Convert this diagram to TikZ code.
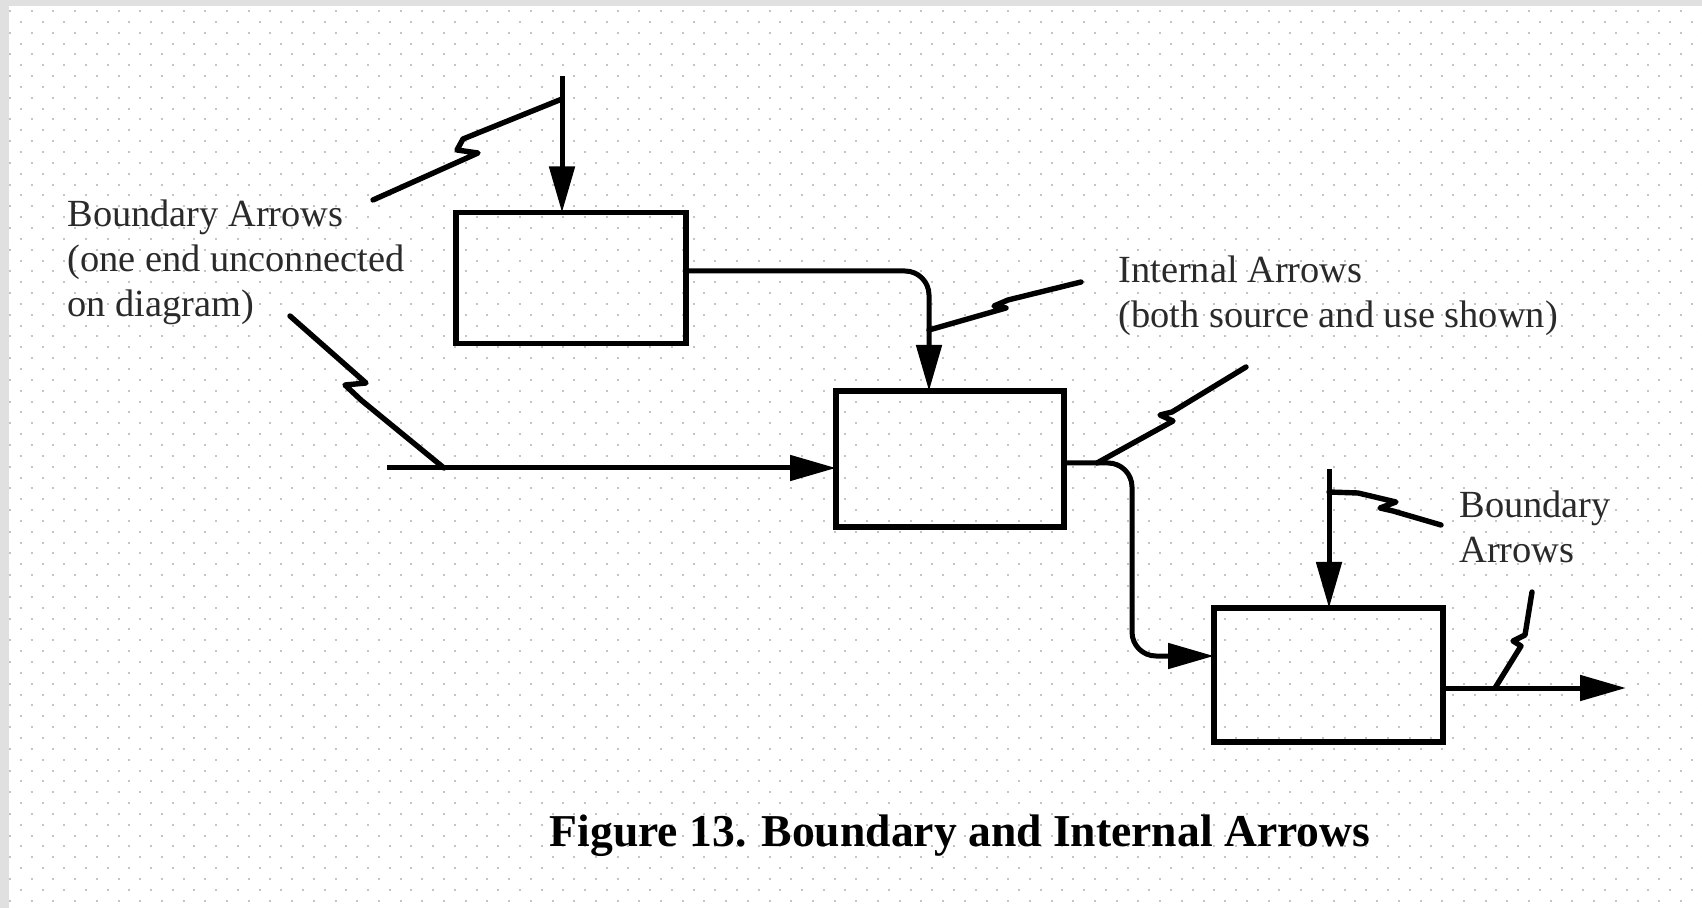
\documentclass[tikz,border=0pt]{standalone}
\usepackage{fontspec}
\setmainfont{Liberation Serif}
\usetikzlibrary{arrows.meta}

\definecolor{frame}{HTML}{E0E0E0}
\definecolor{dotc}{HTML}{C4C4C4}
\definecolor{ink}{HTML}{2A2A2A}

\begin{document}
\begin{tikzpicture}[x=0.5pt,y=-0.5pt,
  box/.style={draw, line width=2.9pt, inner sep=0pt, outer sep=0pt},
  flow/.style={line width=2.5pt, line join=round},
  conn/.style={flow, -{Triangle[length=23pt,width=12.5pt]}},
  squig/.style={line width=2.7pt, line join=round, line cap=round},
  lbl/.style={anchor=base west, inner sep=0pt, text=ink,
              font=\fontsize{19.2pt}{22.4pt}\selectfont},
  caption/.style={anchor=base, inner sep=0pt,
              font=\fontsize{22.8pt}{27pt}\selectfont\bfseries}]

% page and dotted background
\useasboundingbox (0,0) rectangle (1702,908);
\fill[white] (0,0) rectangle (1702,908);
\fill[frame] (0,0) rectangle (1702,6);
\fill[frame] (0,0) rectangle (9,908);
\foreach \r in {0,...,83} {
  \pgfmathsetmacro{\yy}{11+10.85*\r}
  \pgfmathsetmacro{\ph}{mod(\r,2)*5.425}
  \draw[dotc, line width=1pt, dash pattern=on 1pt off 9.85pt, dash phase=\ph pt]
    (9,\yy) -- (1702,\yy);
}

% activity boxes
\node[box, minimum width=115pt, minimum height=65.5pt] (b1) at (571,278) {};
\node[box, minimum width=114pt, minimum height=68pt] (b2) at (950,459) {};
\node[box, minimum width=114.5pt, minimum height=67pt] (b3) at (1328.5,675) {};

% free ends and bends of the arrows
\coordinate (a1s) at (562,76);
\coordinate (c2) at (929,271);
\coordinate (a3s) at (387,468);
\coordinate (c4a) at (1132,463);
\coordinate (c4b) at (1132,656);
\coordinate (a5s) at (1329,469);
\coordinate (a6e) at (1626,688);

% arrows
\draw[conn] (a1s) -- (a1s |- b1.north);
\draw[conn, rounded corners=12pt] (b1.east |- c2) -- (c2) -- (c2 |- b2.north);
\draw[conn] (a3s) -- (a3s -| b2.west);
\draw[conn, rounded corners=12pt] (b2.east |- c4a) -- (c4a) -- (c4b) -- (c4b -| b3.west);
\draw[conn] (a5s) -- (a5s |- b3.north);
\draw[conn] (b3.east |- a6e) -- (a6e);

% labels
\node[lbl] (l1a) at (67,227) {Boundary Arrows};
\node[lbl] (l1b) at (67,272) {(one end unconnected};
\node[lbl] (l1c) at (67,317) {on diagram)};
\node[lbl] (l2a) at (1118,283) {Internal Arrows};
\node[lbl] (l2b) at (1118,328) {(both source and use shown)};
\node[lbl] (l3a) at (1459,518) {Boundary};
\node[lbl] (l3b) at (1459,563) {Arrows};
\node[caption] (cap) at (960,846) {Figure 13. Boundary and Internal Arrows};

% squiggles tying labels to arrows
\coordinate (s1a) at (373,200);  \coordinate (s1b) at (562,99);
\coordinate (s2a) at (290,316);  \coordinate (s2b) at (444,468);
\coordinate (s3a) at (1081,282); \coordinate (s3b) at (929,330);
\coordinate (s4a) at (1246,367); \coordinate (s4b) at (1097,463);
\coordinate (s5a) at (1441,525); \coordinate (s5b) at (1329,492);
\coordinate (s6a) at (1532,592); \coordinate (s6b) at (1495,688);

\draw[squig] (s1a) -- (478,153) -- (457,150) -- (463,139) -- (s1b);
\draw[squig] (s2a) -- (366,383) -- (345,385) -- (361,400) -- (s2b);
\draw[squig] (s3b) -- (1006,308) -- (994,306) -- (1008,300) -- (s3a);
\draw[squig] (s4a) -- (1172,412) -- (1160,415) -- (1173,421) -- (s4b);
\draw[squig] (s5a) -- (1393,511) -- (1380,508) -- (1396,502) -- (1358,493) -- (s5b);
\draw[squig] (s6a) -- (1525,635) -- (1513,641) -- (1521,646) -- (s6b);
\end{tikzpicture}
\end{document}
